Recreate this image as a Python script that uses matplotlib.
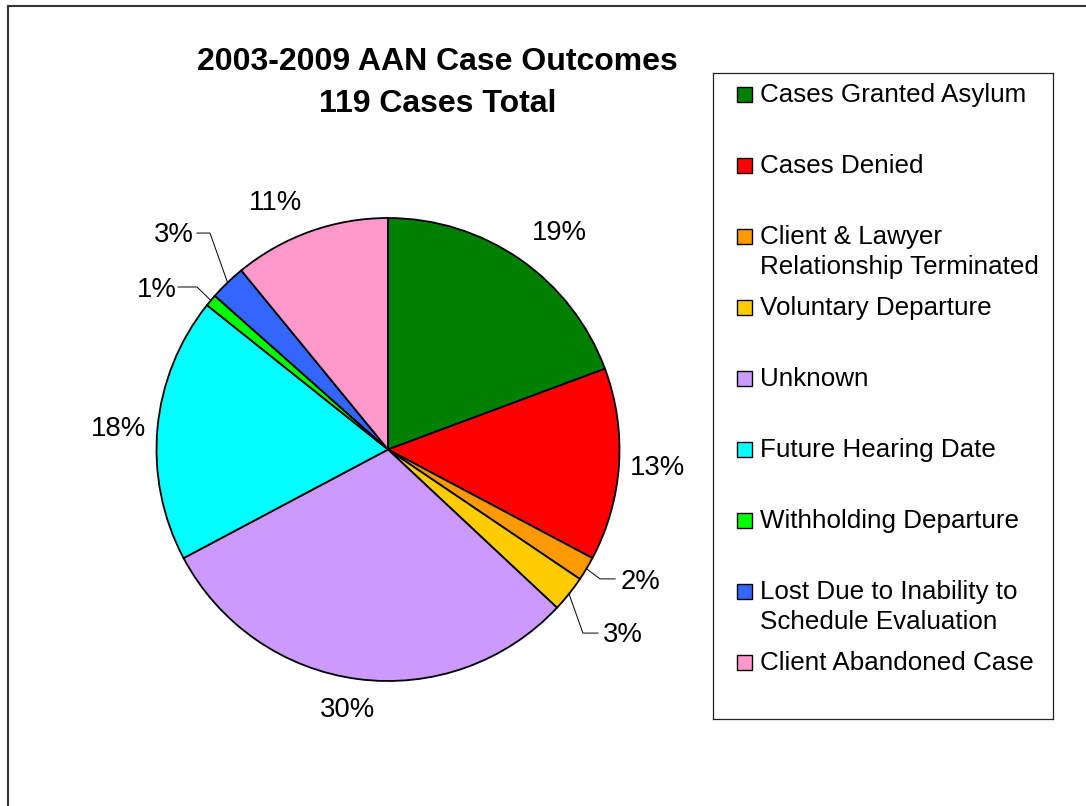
import matplotlib

matplotlib.use("Agg")  # headless (no GUI)
import matplotlib.pyplot as plt
from matplotlib.patches import Rectangle
from matplotlib.lines import Line2D
import numpy as np

plt.rcParams["font.family"] = ["Liberation Sans", "DejaVu Sans"]

# --- data
categories = [
    "Cases Granted Asylum",
    "Cases Denied",
    "Client & Lawyer\nRelationship Terminated",
    "Voluntary Departure",
    "Unknown",
    "Future Hearing Date",
    "Withholding Departure",
    "Lost Due to Inability to\nSchedule Evaluation",
    "Client Abandoned Case",
]
case_counts = [23, 16, 2, 3, 36, 22, 1, 3, 13]
colors = ["#008000", "#FF0000", "#FF9900", "#FFCC00", "#CC99FF",
          "#00FFFF", "#00FF00", "#3366FF", "#FF99CC"]
title = "2003-2009 AAN Case Outcomes\n119 Cases Total"

# label layout (pie data units, radius = 1)
label_xy = [(0.739, 0.935), (1.166, -0.080), (1.089, -0.572), (1.015, -0.801),
            (-0.173, -1.125), (-1.162, 0.089), (-0.998, 0.689), (-0.924, 0.927),
            (-0.484, 1.065)]
leaders = {2: [(0.916, -0.559), (0.981, -0.559)],
           3: [(0.842, -0.793), (0.907, -0.793)],
           6: [(-0.825, 0.702), (-0.907, 0.702)],
           7: [(-0.769, 0.935), (-0.825, 0.935)]}

W, H = 1086, 806
fig = plt.figure(figsize=(W / 100, H / 100), dpi=100)

# pie axes: center at (388, 449.5) px, radius 231.5 px
cx, cy, r, half = 388, 449.5, 231.5, 300
ax = fig.add_axes(((cx - half) / W, (H - cy - half) / H, 2 * half / W, 2 * half / H))
wedges, _ = ax.pie(case_counts, colors=colors, startangle=90, counterclock=False,
                   radius=1, wedgeprops=dict(edgecolor="black", linewidth=1.3))
lim = half / r
ax.set_xlim(-lim, lim)
ax.set_ylim(-lim, lim)
ax.axis("off")

total = sum(case_counts)
for i, (w, n) in enumerate(zip(wedges, case_counts)):
    pct = f"{round(100 * n / total)}%"
    tx, ty = label_xy[i]
    if i in leaders:
        mid = np.deg2rad((w.theta1 + w.theta2) / 2)
        pts = [(np.cos(mid), np.sin(mid))] + leaders[i]
        ax.plot([p[0] for p in pts], [p[1] for p in pts], color="black", lw=0.7)
    ax.text(tx, ty, pct, fontsize=19.8, ha="center", va="center")

# title (baseline of last line)
fig.text(437.5 / W, 1 - 112 / H, title, fontsize=23, fontweight="bold",
         ha="center", va="baseline", multialignment="center", linespacing=1.5)

# legend box drawn as its own axes, pixel units inside
lx0, ly0, lx1, ly1 = 713, 73, 1053, 719
lax = fig.add_axes((lx0 / W, (H - ly1) / H, (lx1 - lx0) / W, (ly1 - ly0) / H))
lax.set_xlim(0, lx1 - lx0)
lax.set_ylim(ly1 - ly0, 0)
lax.set_xticks([])
lax.set_yticks([])
for s in lax.spines.values():
    s.set_linewidth(0.9)
    s.set_edgecolor("#222222")
for i, (lab, col) in enumerate(zip(categories, colors)):
    base = 29 + i * 71
    extra = 30 * lab.count("\n")
    lax.add_patch(Rectangle((24, base - 15), 15, 15, facecolor=col,
                            edgecolor="black", linewidth=1))
    lax.text(47, base + extra, lab, fontsize=18.7, ha="left", va="baseline",
             linespacing=1.3)

# outer chart border (only left and top edges visible)
fig.add_artist(Line2D([8 / W, 8 / W], [0, 1 - 5.5 / H], color="#333333", lw=1.5))
fig.add_artist(Line2D([8 / W, 1], [1 - 5.5 / H, 1 - 5.5 / H], color="#333333", lw=1.5))

fig.savefig("out.png", dpi=100)
plt.close(fig)
